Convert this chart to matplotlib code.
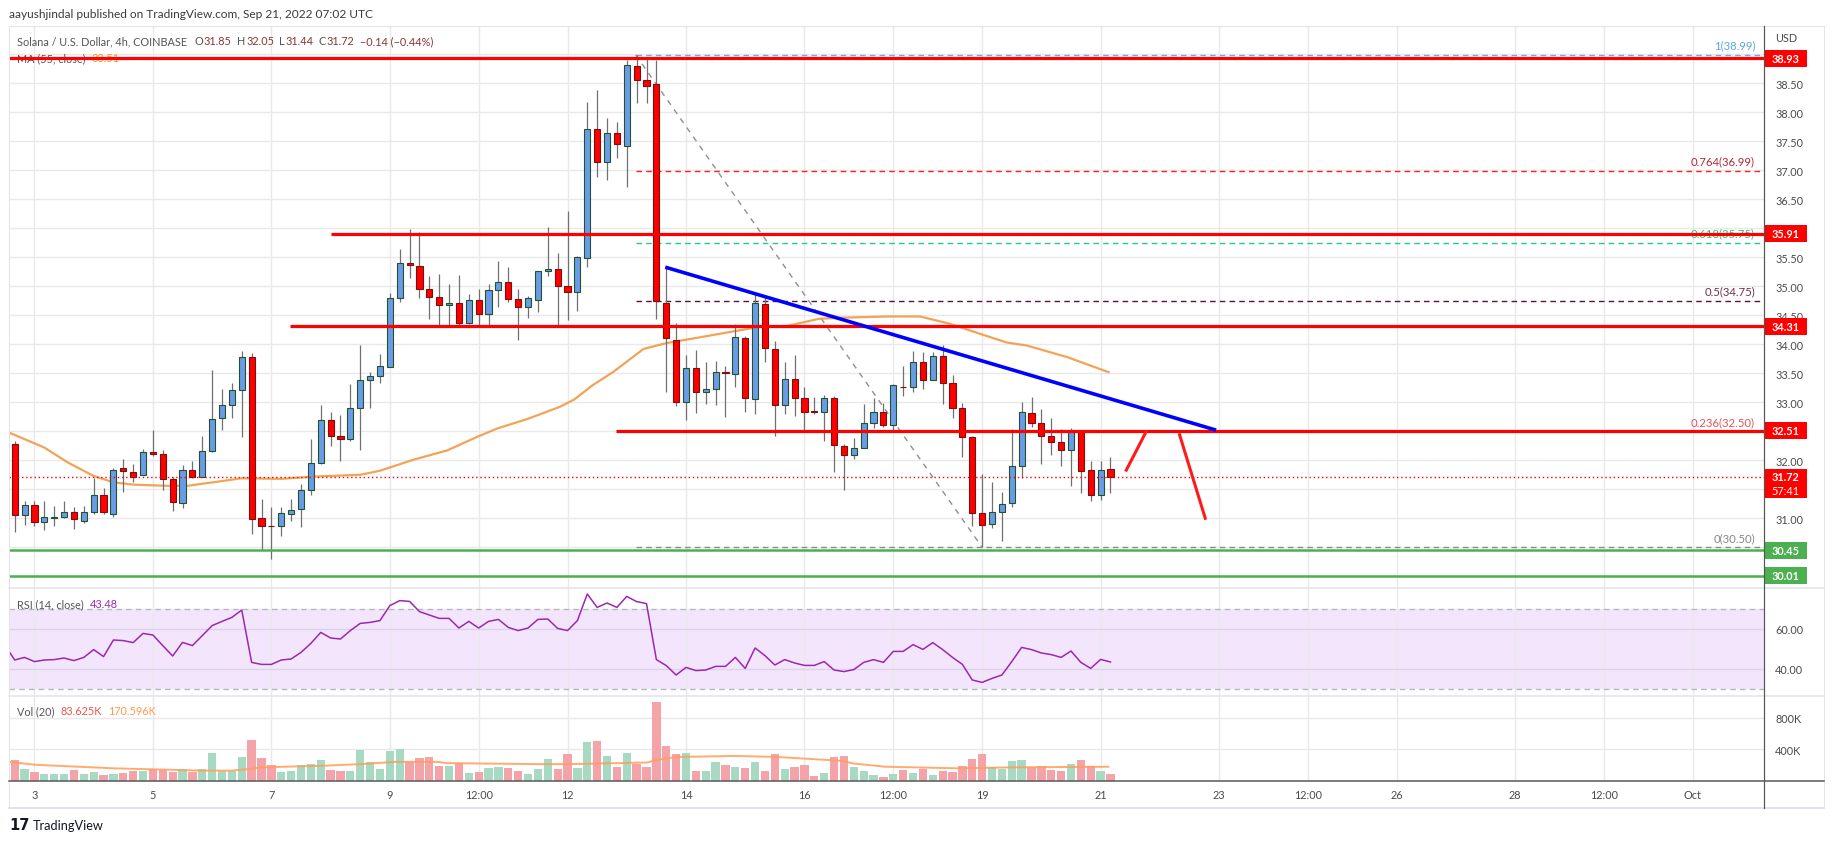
import numpy as np
import matplotlib
matplotlib.use("Agg")
import matplotlib.pyplot as plt
import matplotlib.transforms as mtransforms
from matplotlib.lines import Line2D
from matplotlib.patches import Rectangle

plt.rcParams['font.family'] = ['Lato', 'DejaVu Sans']

# ---------------- data (4h candles, Sep 2 16:00 -> Sep 21 04:00) ----------------
opens = [32.28, 31.05, 31.23, 30.93, 31.01, 31.03, 31.10, 30.96, 31.10, 31.41,
         31.08, 31.86, 31.79, 31.75, 32.15, 32.10, 31.67, 31.26, 31.84, 31.71,
         32.16, 32.73, 32.96, 33.22, 33.78, 31.01, 30.87, 30.86, 31.07, 31.16,
         31.48, 31.95, 32.69, 32.42, 32.36, 32.91, 33.39, 33.46, 33.61, 34.79,
         35.41, 35.35, 34.96, 34.81, 34.68, 34.72, 34.37, 34.76, 34.52, 34.93,
         35.07, 34.78, 34.64, 34.77, 35.26, 35.30, 35.00, 34.91, 35.48, 37.71,
         37.15, 37.64, 37.42, 38.79, 38.55, 38.48, 34.72, 34.08, 33.00, 33.59,
         33.17, 33.23, 33.53, 33.49, 34.10, 33.05, 34.69, 33.92, 32.96, 33.41,
         33.07, 32.84, 32.83, 33.08, 32.25, 32.09, 32.22, 32.65, 32.84, 32.60,
         33.27, 33.27, 33.70, 33.39, 33.80, 33.33, 32.90, 32.41, 31.09, 30.91,
         31.10, 31.26, 31.91, 32.81, 32.64, 32.42, 32.32, 32.17, 32.50, 31.84,
         31.41, 31.85]
highs = [32.34, 31.29, 31.29, 31.29, 31.21, 31.29, 31.19, 31.21, 31.70, 31.53,
         31.86, 32.02, 31.94, 32.19, 32.53, 32.18, 31.71, 31.92, 31.99, 32.42,
         33.56, 33.23, 33.33, 33.88, 33.85, 31.34, 31.19, 31.19, 31.33, 31.59,
         32.37, 32.95, 32.84, 32.78, 33.31, 33.99, 33.53, 33.83, 34.88, 35.64,
         35.99, 35.94, 35.17, 35.21, 35.04, 35.19, 34.87, 34.95, 35.04, 35.44,
         35.33, 34.95, 34.83, 35.27, 36.03, 35.57, 36.29, 35.53, 38.18, 38.38,
         37.90, 37.84, 38.91, 38.99, 38.93, 38.91, 35.33, 34.36, 33.82, 33.90,
         33.69, 33.71, 33.62, 34.35, 34.15, 34.91, 34.81, 34.06, 33.69, 33.81,
         33.27, 33.09, 33.13, 33.11, 32.28, 32.38, 32.97, 33.07, 32.98, 33.32,
         33.62, 33.88, 33.86, 33.86, 33.99, 33.47, 32.98, 32.42, 31.76, 31.62,
         31.46, 32.54, 33.00, 33.09, 32.88, 32.73, 32.54, 32.55, 32.51, 31.98,
         31.98, 32.05]
lows = [30.77, 30.89, 30.87, 30.80, 30.87, 31.00, 30.81, 30.92, 31.07, 31.07,
        31.03, 31.45, 31.63, 31.74, 32.07, 31.48, 31.13, 31.17, 31.69, 31.71,
        32.15, 32.53, 32.73, 32.40, 30.73, 30.46, 30.30, 30.70, 30.96, 30.85,
        31.40, 31.94, 32.24, 31.99, 32.34, 32.17, 32.90, 33.34, 33.60, 34.73,
        35.14, 34.80, 34.44, 34.29, 34.32, 34.29, 34.35, 34.32, 34.32, 34.64,
        34.73, 34.08, 34.46, 34.55, 35.18, 34.34, 34.42, 34.58, 35.33, 36.88,
        36.84, 37.21, 36.72, 38.16, 38.16, 34.44, 33.17, 32.93, 32.70, 32.81,
        32.97, 32.96, 32.74, 33.27, 32.84, 32.79, 33.70, 32.42, 32.80, 32.77,
        32.49, 32.79, 32.34, 31.80, 31.49, 32.03, 32.21, 32.55, 32.57, 32.53,
        33.11, 33.18, 33.23, 33.39, 32.97, 32.73, 32.06, 30.87, 30.50, 30.83,
        30.61, 31.19, 31.69, 32.58, 31.94, 32.09, 31.91, 31.56, 31.44, 31.30,
        31.31, 31.44]
closes = [31.06, 31.23, 30.93, 31.03, 31.02, 31.11, 30.98, 31.10, 31.41, 31.10,
          31.84, 31.81, 31.72, 32.15, 32.10, 31.68, 31.28, 31.84, 31.71, 32.16,
          32.71, 32.96, 33.22, 33.78, 30.99, 30.86, 30.86, 31.09, 31.14, 31.48,
          31.96, 32.69, 32.42, 32.36, 32.91, 33.38, 33.46, 33.62, 34.79, 35.41,
          35.37, 34.96, 34.81, 34.68, 34.72, 34.36, 34.76, 34.52, 34.93, 35.07,
          34.78, 34.64, 34.80, 35.26, 35.30, 35.00, 34.91, 35.50, 37.71, 37.15,
          37.65, 37.46, 38.81, 38.55, 38.46, 34.74, 34.10, 33.00, 33.59, 33.17,
          33.23, 33.52, 33.50, 34.12, 33.07, 34.72, 33.93, 32.96, 33.40, 33.07,
          32.83, 32.83, 33.07, 32.26, 32.09, 32.22, 32.65, 32.84, 32.60, 33.30,
          33.26, 33.69, 33.39, 33.80, 33.33, 32.90, 32.41, 31.09, 30.89, 31.10,
          31.24, 31.91, 32.83, 32.64, 32.42, 32.32, 32.17, 32.50, 31.82, 31.41,
          31.84, 31.72]

# MA(55, close) at candle positions
ma_idx = [-0.6, 3, 5.4, 8, 10, 12, 15.4, 17.5, 20.5, 23, 27, 30.4, 35, 37, 40.4, 43.8,
          46.8, 48.9, 51.9, 55.2, 56.7, 58.5, 60.6, 63.7, 66, 69.4, 72.7, 75.8, 77.8,
          81.5, 84, 88.7, 91.7, 94.8, 97.8, 100.5, 102.5, 106.6, 110.8]
ma_val = [32.48, 32.22, 31.96, 31.73, 31.62, 31.58, 31.56, 31.56, 31.63, 31.69, 31.68, 31.72,
          31.75, 31.82, 32.01, 32.17, 32.40, 32.55, 32.71, 32.92, 33.05, 33.29, 33.52, 33.92,
          34.02, 34.12, 34.22, 34.31, 34.30, 34.44, 34.46, 34.48, 34.48, 34.35, 34.18, 34.03,
          33.98, 33.78, 33.52]

# RSI(14) values, first value is the candle before the visible range
rsi_val = [52.0,
           44.5, 45.8, 43.7, 44.5, 44.7, 45.5, 44.2, 45.8, 49.7, 46.2,
           54.5, 54.2, 53.2, 57.8, 57.0, 51.7, 46.5, 53.3, 51.7, 56.7,
           61.7, 63.8, 65.8, 69.5, 43.3, 42.3, 42.3, 44.5, 45.0, 48.3,
           52.8, 58.3, 55.5, 55.0, 59.2, 62.8, 63.3, 64.2, 71.7, 74.2,
           73.8, 68.7, 67.0, 65.3, 65.3, 60.5, 63.8, 60.5, 63.8, 64.8,
           60.8, 59.2, 60.5, 64.8, 65.0, 60.3, 59.2, 64.2, 77.5, 70.8,
           73.0, 70.8, 76.3, 73.7, 72.7, 44.7, 41.7, 37.0, 40.8, 39.2,
           39.5, 41.3, 41.3, 45.8, 40.3, 50.5, 46.7, 42.0, 44.7, 43.0,
           41.8, 41.8, 43.7, 39.5, 38.7, 39.7, 43.3, 44.7, 43.3, 48.8,
           48.8, 52.2, 49.8, 53.2, 49.7, 45.8, 42.3, 34.5, 33.3, 35.3,
           37.0, 43.7, 50.8, 49.7, 48.0, 47.2, 45.8, 49.0, 43.3, 40.3,
           44.8, 43.5]

# Volume (thousands)
volume_k = [264, 153, 115, 91, 91, 91, 140, 91, 115, 78,
            91, 103, 128, 128, 153, 140, 115, 153, 115, 153,
            350, 128, 128, 301, 524, 289, 202, 115, 128, 202,
            214, 264, 140, 128, 128, 388, 239, 153, 375, 400,
            239, 289, 301, 190, 190, 227, 103, 115, 165, 177,
            165, 128, 91, 153, 276, 153, 338, 165, 499, 511,
            313, 177, 350, 214, 177, 1006, 450, 338, 350, 128,
            128, 239, 202, 177, 165, 239, 128, 338, 153, 177,
            202, 66, 103, 301, 313, 177, 128, 78, 54, 91,
            140, 103, 153, 78, 128, 115, 190, 276, 338, 177,
            153, 252, 264, 177, 190, 140, 128, 214, 264, 190,
            128, 84]
vma_idx = [-0.6, 2.1, 10, 19, 21.9, 24, 24.8, 31.3, 35, 38.6, 42.8, 43.7, 53.2, 56,
           64.1, 65, 67, 72.9, 77.2, 83.8, 84.9, 88.2, 95.5, 101, 110.8]
vma_k = [243, 206, 161, 132, 132, 153, 173, 194, 214, 243, 243, 227, 214, 214,
         235, 268, 305, 318, 305, 256, 223, 181, 161, 173, 181]

# time axis (candle index of each label)
tick_idx = [2, 14, 26, 38, 47, 56, 68, 80, 89, 98, 110, 122, 131, 140, 152, 161, 170]
tick_lbl = ["3", "5", "7", "9", "12:00", "12", "14", "16", "12:00", "19", "21", "23",
            "12:00", "26", "28", "12:00", "Oct"]

# drawings
sr_red = [38.93, 35.91, 34.31, 32.51]
sr_red_start = [-1, 32.0, 27.9, 60.9]
sr_green = [30.45, 30.01]
fib_levels = [38.99, 36.99, 35.75, 34.75, 32.50, 30.50]
fib_ratio = ["1", "0.764", "0.618", "0.5", "0.236", "0"]
fib_start = 62.9
trend_pts = ([65.9, 121.7], [35.33, 32.52])
diag_pts = ([62.9, 98.0], [38.99, 30.50])
arrow_up = ([112.6, 114.6], [31.83, 32.49])
arrow_dn = ([118.0, 120.6], [32.44, 31.00])
last_price = 31.72

# ---------------- figure ----------------
W, H = 1834, 845
fig = plt.figure(figsize=(W / 100, H / 100), dpi=100, facecolor='white')
PIX = mtransforms.Affine2D().scale(1, -1).translate(0, H)

L, R = 9, 1764
TOP, P_BOT, R_BOT, V_BOT, FR_BOT, FR_R = 27, 589, 697, 782, 809, 1824


def add_ax(top, bot):
    return fig.add_axes([L / W, 1 - bot / H, (R - L) / W, (bot - top) / H])


axp = add_ax(TOP, P_BOT)
axr = add_ax(P_BOT, R_BOT)
axv = add_ax(R_BOT, V_BOT)

XL = (-0.578, 177.2)
GRID = '#e9e9ec'
TXT = '#4a4a4a'
FS = 7.8

for a in (axp, axr, axv):
    a.set_xlim(*XL)
    for s in a.spines.values():
        s.set_visible(False)
    a.set_xticks(tick_idx)
    a.grid(True, axis='x', color=GRID, lw=1, zorder=0)
    a.tick_params(axis='both', length=0, labelsize=FS, labelcolor=TXT)
    a.set_axisbelow(True)
axp.set_xticklabels([])
axr.set_xticklabels([])
axv.set_xticklabels(tick_lbl)
axv.tick_params(axis='x', pad=6)

# ---- price pane ----
axp.set_ylim(29.798, 39.488)
yt = np.arange(30.0, 39.01, 0.5)
hidden = (30.0, 30.5, 31.5, 32.5, 36.0, 39.0)   # covered by the axis boxes
axp.set_yticks(yt)
axp.set_yticklabels(["" if any(abs(v - h) < 1e-6 for h in hidden) else f"{v:.2f}" for v in yt])
axp.yaxis.tick_right()
axp.tick_params(axis='y', pad=8)
axp.grid(True, axis='y', color=GRID, lw=1, zorder=0)

x = np.arange(len(opens))
o = np.array(opens); c = np.array(closes)
up = c >= o
body_col = np.where(up, '#6a9be6', '#ff0000')
edge_col = np.where(up, '#22532f', '#7a1010')
axp.vlines(x, lows, highs, color='#707070', lw=0.9, zorder=2.8)
axp.bar(x, np.maximum(np.abs(c - o), 0.012), bottom=np.minimum(o, c), width=0.62,
        color=body_col, edgecolor=edge_col, linewidth=0.8, zorder=3)

axp.plot(ma_idx, ma_val, color='#f09a45', lw=1.6, alpha=0.9, zorder=2.5)

# fib
fib_line_col = ['#64b0e8', '#ff2020', '#25c79a', '#5a1238', '#ff2020', '#8a8a8a']
fib_txt_col = ['#5aa7dc', '#b22833', '#2bbf8a', '#6e3250', '#e05555', '#888888']
for lv, r, lc, tc in zip(fib_levels, fib_ratio, fib_line_col, fib_txt_col):
    axp.plot([fib_start, XL[1]], [lv, lv], color=lc, lw=1, ls=(0, (4, 3)), zorder=1.8)
    axp.annotate(f"{r}({lv:.2f})", xy=(176.3, lv), xytext=(0, 3), textcoords='offset points',
                 ha='right', va='bottom', color=tc, fontsize=FS + 0.4, zorder=1.9)
axp.plot(*diag_pts, color='#909090', lw=1, ls=(0, (4, 4)), zorder=1.8)

axp.plot(XL, [last_price, last_price], color='#ff0000', lw=1, ls=(0, (1, 2)), zorder=3.6)

for lv, st in zip(sr_red, sr_red_start):
    axp.plot([max(st, XL[0]), XL[1]], [lv, lv], color='#ff0000', lw=2.3, zorder=4,
             solid_capstyle='butt')
for lv in sr_green:
    axp.plot(XL, [lv, lv], color='#4caf50', lw=1.8, zorder=4, solid_capstyle='butt')

axp.plot(*trend_pts, color='#0000ff', lw=2.6, zorder=4.2, solid_capstyle='butt')
axp.plot(*arrow_up, color='#ff1a1a', lw=2.2, zorder=4.2)
axp.plot(*arrow_dn, color='#ff1a1a', lw=2.2, zorder=4.2)

# price-axis boxes
bt = mtransforms.blended_transform_factory(axp.transAxes, axp.transData)
bw = 43 / (R - L)
bh = 17 / 58.0
for lv in sr_red:
    axp.add_patch(Rectangle((1.0, lv - bh / 2), bw, bh, transform=bt, facecolor='#ff0000',
                            edgecolor='none', clip_on=False, zorder=6))
    axp.text(1.0 + bw / 2, lv, f"{lv:.2f}", transform=bt, ha='center', va='center',
             color='white', fontsize=FS, fontweight='bold', zorder=7, clip_on=False)
for lv in sr_green:
    axp.add_patch(Rectangle((1.0, lv - bh / 2), bw, bh, transform=bt, facecolor='#4caf50',
                            edgecolor='none', clip_on=False, zorder=6))
    axp.text(1.0 + bw / 2, lv, f"{lv:.2f}", transform=bt, ha='center', va='center',
             color='white', fontsize=FS, fontweight='bold', zorder=7, clip_on=False)
axp.add_patch(Rectangle((1.0, last_price - 29 / 58 + 7.5 / 58), bw, 29 / 58, transform=bt,
                        facecolor='#ff0000', edgecolor='none', clip_on=False, zorder=6))
axp.text(1.0 + bw / 2, last_price, f"{last_price:.2f}", transform=bt, ha='center',
         va='center', color='white', fontsize=FS, fontweight='bold', zorder=7, clip_on=False)
axp.text(1.0 + bw / 2, last_price - 14 / 58, "57:41", transform=bt, ha='center',
         va='center', color='white', fontsize=FS, zorder=7, clip_on=False)

# ---- RSI pane ----
axr.set_ylim(26.5, 80.5)
axr.set_yticks([40, 60])
axr.set_yticklabels(["40.00", "60.00"])
axr.yaxis.tick_right()
axr.tick_params(axis='y', pad=8)
axr.grid(True, axis='y', color='#dcd3e8', lw=1, zorder=0.6)
axr.axhspan(30, 70, color='#f3e6fc', zorder=0.5, lw=0)
axr.axhline(70, color='#b8b8bc', lw=1, ls=(0, (4, 3)), zorder=1)
axr.axhline(30, color='#b8b8bc', lw=1, ls=(0, (4, 3)), zorder=1)
axr.plot(np.arange(-1, len(rsi_val) - 1), rsi_val, color='#9c27b0', lw=1.1, zorder=3)

# ---- volume pane ----
vol = np.array(volume_k) * 1000
axv.set_ylim(0, 1079e3)
axv.set_yticks([400e3, 800e3])
axv.set_yticklabels(["400K", "800K"])
axv.yaxis.tick_right()
axv.tick_params(axis='y', pad=8)
axv.grid(True, axis='y', color=GRID, lw=1, zorder=0)
axv.bar(x, vol, width=0.84, color=np.where(up, '#a7d9c3', '#f4a4a9'), zorder=2, lw=0)
axv.plot(vma_idx, np.array(vma_k) * 1000, color='#ff9d57', lw=1.4, alpha=0.85, zorder=3)

# ---------------- frame lines ----------------
def pline(x0, y0, x1, y1, color, lw=1.0, z=20, ls='-'):
    fig.add_artist(Line2D([x0, x1], [y0, y1], transform=PIX, color=color, lw=lw * 0.72,
                          zorder=z, ls=ls))


pline(L, TOP, FR_R, TOP, '#e0e3eb')
pline(L, TOP, L, FR_BOT, '#e0e3eb')
pline(FR_R, TOP, FR_R, FR_BOT, '#e0e3eb')
pline(L, FR_BOT, FR_R, FR_BOT, '#e0e3eb', lw=2)
pline(L, P_BOT, FR_R, P_BOT, '#e0e3eb', lw=1.5)
pline(L, R_BOT, FR_R, R_BOT, '#e0e3eb', lw=1.5)
pline(L, V_BOT, FR_R, V_BOT, '#555555', lw=1.5)
pline(R, TOP, R, FR_BOT, '#555555', lw=1.2)

# ---------------- texts ----------------
renderer = fig.canvas.get_renderer()


def seq_text(x0, y0, pieces, size, parent=None, z=3.5):
    xx = x0
    for s, col, gap in pieces:
        if parent is None:
            t = fig.text(0, 0, s, color=col, fontsize=size, va='center', ha='left',
                         transform=PIX)
            t.set_position((xx, y0))
        else:
            t = parent.text(xx, y0, s, color=col, fontsize=size, va='center', ha='left',
                            transform=PIX, zorder=z, clip_on=False)
        bb = t.get_window_extent(renderer=renderer)
        xx += bb.width + gap


GR = '#555555'
DR = '#8b3434'
fig.text(9, 15, "aayushjindal published on TradingView.com, Sep 21, 2022 07:02 UTC",
         transform=PIX, color='#3a3a3a', fontsize=8.6, va='center', ha='left')
seq_text(17, 42, [("Solana / U.S. Dollar, 4h, COINBASE", GR, 7), ("O", GR, 1),
                  ("31.85", DR, 5), ("H", GR, 1), ("32.05", DR, 5), ("L", GR, 1),
                  ("31.44", DR, 5), ("C", GR, 1), ("31.72", DR, 5),
                  ("\u22120.14 (\u22120.44%)", DR, 0)], 7.8, parent=axp)
seq_text(17, 59, [("MA (55, close)", GR, 6), ("33.51", '#f7931e', 0)], 7.8, parent=axp)
seq_text(17, 605, [("RSI (14, close)", GR, 6), ("43.48", '#9c27b0', 0)], 7.8, parent=axr)
seq_text(17, 712, [("Vol (20)", GR, 6), ("83.625K", '#ef5350', 6),
                   ("170.596K", '#ff9a50', 0)], 7.8, parent=axv)
fig.text(1775, 39, "USD", transform=PIX, color=TXT, fontsize=FS, va='center', ha='left')

# TradingView footer
fig.text(9, 826, "17", transform=PIX, color='#131722', fontsize=10.5, fontweight='heavy',
         va='center', ha='left', family='DejaVu Sans')
fig.text(33, 826, "TradingView", transform=PIX, color='#131722', fontsize=9.2,
         va='center', ha='left')

fig.savefig("out.png", dpi=100, facecolor='white')
